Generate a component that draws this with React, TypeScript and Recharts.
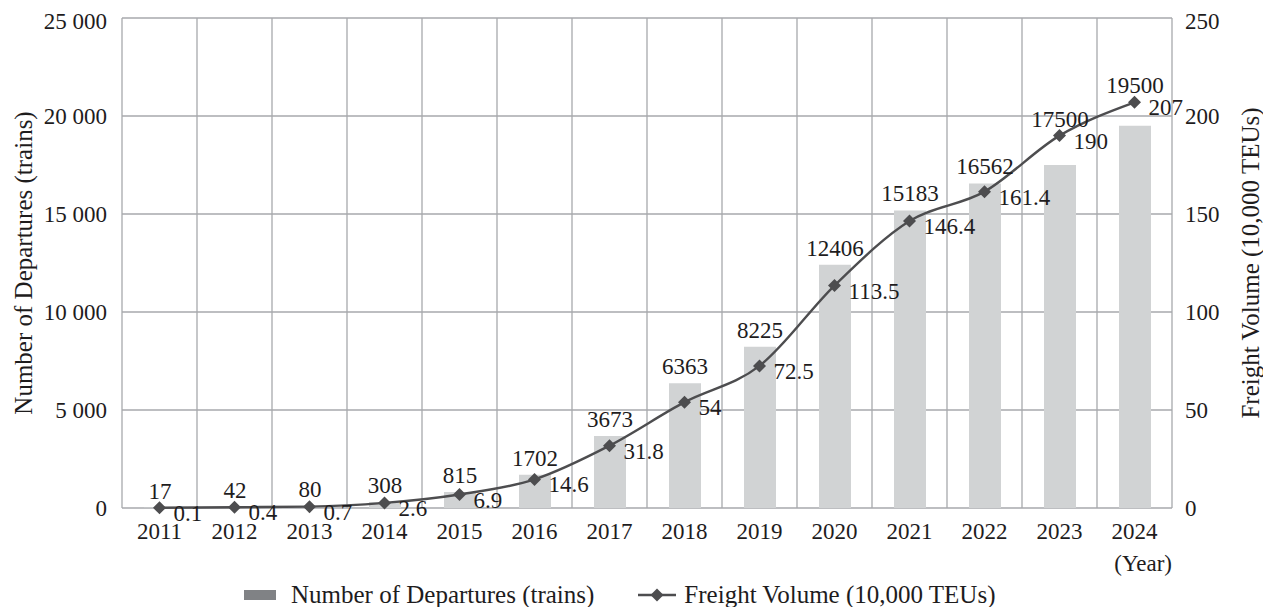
import { Bar, CartesianGrid, ComposedChart, LabelList, Legend, Line, XAxis, YAxis } from 'recharts'

const years = ['2011', '2012', '2013', '2014', '2015', '2016', '2017', '2018', '2019', '2020', '2021', '2022', '2023', '2024']
const departures = [17, 42, 80, 308, 815, 1702, 3673, 6363, 8225, 12406, 15183, 16562, 17500, 19500]
const freight = [0.1, 0.4, 0.7, 2.6, 6.9, 14.6, 31.8, 54, 72.5, 113.5, 146.4, 161.4, 190, 207]
const leftTicks = [0, 5000, 10000, 15000, 20000, 25000]
const rightTicks = [0, 50, 100, 150, 200, 250]

const data = years.map((year, i) => ({ year, departures: departures[i], freight: freight[i] }))

const W = 1263
const H = 599
const TOP = 10
const BOTTOM = 99
const LEFT_W = 114
const RIGHT_W = 99
const PLOT_BOTTOM = H - BOTTOM
const PLOT_H = PLOT_BOTTOM - TOP
const RIGHT_MAX = 250

const FONT = "'Liberation Serif', 'Times New Roman', serif"
const INK = '#1e1c1d'
const GRID = '#a7a9ac'
const BAR = '#d1d3d4'
const LINE = '#4d4d4f'
const TITLE_SIZE = 25

const fmtThousands = (v: number) => (v >= 1000 ? `${Math.floor(v / 1000)} ${String(v % 1000).padStart(3, '0')}` : String(v))

function Diamond(props: any) {
  const { cx, cy, index } = props
  if (cx == null || cy == null) return null
  const r = 6.5
  return <path key={`dm-${index}`} d={`M${cx},${cy - r}L${cx + r},${cy}L${cx},${cy + r}L${cx - r},${cy}Z`} fill={LINE} />
}

function BarValue(props: any) {
  const { x, y, width, value, index } = props
  const lineY = PLOT_BOTTOM - (freight[index] / RIGHT_MAX) * PLOT_H
  const cy = Math.min(y, lineY) - 17
  return (
    <text x={x + width / 2} y={cy} dy="0.35em" textAnchor="middle" fontSize={23} fill={INK} fontFamily={FONT}>
      {value}
    </text>
  )
}

function LineValue(props: any) {
  const { x, y, value } = props
  return (
    <text x={x + 14} y={y + 5} dy="0.35em" textAnchor="start" fontSize={23} fill={INK} fontFamily={FONT}>
      {value}
    </text>
  )
}

function LegendBox() {
  return (
    <div
      style={{
        height: 40,
        display: 'flex',
        alignItems: 'center',
        paddingLeft: 236,
        paddingTop: 16,
        boxSizing: 'border-box',
        fontFamily: FONT,
        fontSize: TITLE_SIZE,
        color: INK,
        whiteSpace: 'nowrap',
      }}
    >
      <span style={{ display: 'inline-block', width: 32, height: 10, background: '#808285', marginRight: 15 }} />
      <span>Number of Departures (trains)</span>
      <svg width={38} height={14} style={{ marginLeft: 44, marginRight: 8 }}>
        <line x1={0} y1={7} x2={38} y2={7} stroke={LINE} strokeWidth={2.4} />
        <path d="M19,0.5L25.5,7L19,13.5L12.5,7Z" fill={LINE} />
      </svg>
      <span>Freight Volume (10,000 TEUs)</span>
    </div>
  )
}

export default function App() {
  return (
    <ComposedChart width={W} height={H} data={data} margin={{ top: TOP, right: 0, bottom: 0, left: 0 }}>
      <CartesianGrid
        yAxisId="left"
        stroke={GRID}
        strokeWidth={1.3}
        verticalCoordinatesGenerator={({ offset }: any) =>
          Array.from({ length: years.length + 1 }, (_, i) => offset.left + (i * offset.width) / years.length)
        }
      />
      <XAxis
        dataKey="year"
        height={59}
        axisLine={false}
        tickLine={false}
        tickSize={0}
        tickMargin={15}
        interval={0}
        tick={{ fontSize: 23, fill: INK, fontFamily: FONT }}
        label={(p: any) => {
          const vb = p.viewBox
          return (
            <text x={vb.x + vb.width} y={vb.y + 63} textAnchor="end" fontSize={23} fill={INK} fontFamily={FONT}>
              (Year)
            </text>
          )
        }}
      />
      <YAxis
        yAxisId="left"
        width={LEFT_W}
        domain={[0, 25000]}
        ticks={leftTicks}
        axisLine={false}
        tickLine={false}
        tickSize={0}
        tickMargin={15}
        tickFormatter={fmtThousands}
        tick={{ fontSize: 23, fill: INK, fontFamily: FONT }}
        label={(p: any) => {
          const vb = p.viewBox
          const cx = 15
          const cy = vb.y + vb.height / 2
          return (
            <text x={cx} y={cy} dy="0.35em" textAnchor="middle" transform={`rotate(-90 ${cx} ${cy})`} fontSize={TITLE_SIZE} fill={INK} fontFamily={FONT}>
              Number of Departures (trains)
            </text>
          )
        }}
      />
      <YAxis
        yAxisId="right"
        orientation="right"
        width={RIGHT_W}
        domain={[0, RIGHT_MAX]}
        ticks={rightTicks}
        axisLine={false}
        tickLine={false}
        tickSize={0}
        tickMargin={13}
        tick={{ fontSize: 23, fill: INK, fontFamily: FONT, textAnchor: 'start' }}
        label={(p: any) => {
          const vb = p.viewBox
          const cx = vb.x + 78
          const cy = vb.y + vb.height / 2
          return (
            <text x={cx} y={cy} dy="0.35em" textAnchor="middle" transform={`rotate(-90 ${cx} ${cy})`} fontSize={TITLE_SIZE} fill={INK} fontFamily={FONT}>
              Freight Volume (10,000 TEUs)
            </text>
          )
        }}
      />
      <Legend verticalAlign="bottom" align="left" content={() => <LegendBox />} />
      <Bar yAxisId="left" dataKey="departures" name="Number of Departures (trains)" fill={BAR} barSize={32} isAnimationActive={false}>
        <LabelList dataKey="departures" content={BarValue} />
      </Bar>
      <Line
        yAxisId="right"
        type="monotone"
        dataKey="freight"
        name="Freight Volume (10,000 TEUs)"
        stroke={LINE}
        strokeWidth={2.4}
        dot={Diamond}
        activeDot={false}
        isAnimationActive={false}
      >
        <LabelList dataKey="freight" content={LineValue} />
      </Line>
    </ComposedChart>
  )
}
